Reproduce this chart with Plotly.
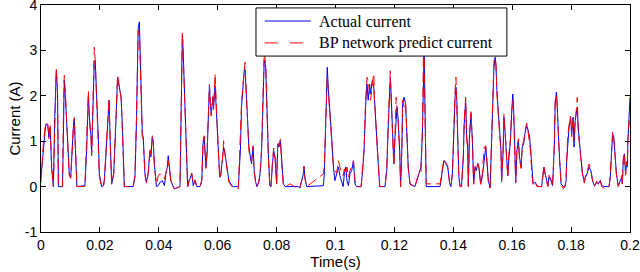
import plotly.graph_objects as go

# time (s)
t = [0.0000,0.0008,0.0014,0.0017,0.0023,0.0027,0.0031,0.0036,0.0042,0.0046,0.0050,0.0052,0.0056,0.0059,0.0073,0.0076,0.0079,0.0084,0.0088,0.0093,
     0.0096,0.0101,0.0104,0.0110,0.0113,0.0117,0.0120,0.0122,0.0149,0.0155,0.0159,0.0161,0.0164,0.0170,0.0172,0.0174,0.0178,0.0181,0.0184,0.0188,
     0.0191,0.0195,0.0198,0.0202,0.0206,0.0212,0.0215,0.0220,0.0225,0.0231,0.0235,0.0240,0.0247,0.0251,0.0256,0.0260,0.0266,0.0272,0.0276,0.0280,
     0.0283,0.0313,0.0319,0.0324,0.0327,0.0330,0.0334,0.0337,0.0340,0.0344,0.0347,0.0350,0.0353,0.0358,0.0364,0.0370,0.0373,0.0378,0.0381,0.0385,
     0.0388,0.0392,0.0398,0.0405,0.0412,0.0419,0.0424,0.0429,0.0432,0.0436,0.0441,0.0448,0.0453,0.0472,0.0474,0.0476,0.0480,0.0483,0.0487,0.0491,
     0.0495,0.0498,0.0503,0.0512,0.0517,0.0523,0.0529,0.0540,0.0546,0.0550,0.0554,0.0557,0.0560,0.0564,0.0569,0.0572,0.0575,0.0578,0.0584,0.0586,
     0.0591,0.0598,0.0602,0.0607,0.0611,0.0616,0.0620,0.0625,0.0632,0.0638,0.0648,0.0653,0.0670,0.0672,0.0677,0.0681,0.0686,0.0690,0.0693,0.0697,
     0.0702,0.0706,0.0711,0.0715,0.0720,0.0724,0.0729,0.0733,0.0740,0.0745,0.0749,0.0755,0.0758,0.0763,0.0766,0.0772,0.0777,0.0781,0.0786,0.0790,
     0.0795,0.0800,0.0804,0.0808,0.0813,0.0817,0.0823,0.0829,0.0846,0.0862,0.0873,0.0879,0.0885,0.0891,0.0893,0.0896,0.0902,0.0959,0.0962,0.0967,
     0.0970,0.0972,0.0976,0.0981,0.0987,0.0993,0.0998,0.1004,0.1010,0.1015,0.1021,0.1026,0.1030,0.1035,0.1039,0.1044,0.1049,0.1055,0.1061,0.1066,
     0.1072,0.1087,0.1091,0.1097,0.1102,0.1107,0.1111,0.1116,0.1119,0.1125,0.1130,0.1132,0.1136,0.1143,0.1147,0.1150,0.1168,0.1174,0.1179,0.1184,
     0.1186,0.1188,0.1193,0.1198,0.1202,0.1206,0.1209,0.1213,0.1218,0.1221,0.1225,0.1228,0.1233,0.1238,0.1243,0.1247,0.1253,0.1270,0.1276,0.1284,
     0.1290,0.1295,0.1299,0.1301,0.1304,0.1308,0.1355,0.1361,0.1368,0.1375,0.1381,0.1388,0.1392,0.1397,0.1401,0.1406,0.1409,0.1412,0.1415,0.1419,
     0.1423,0.1428,0.1434,0.1437,0.1442,0.1445,0.1449,0.1451,0.1455,0.1460,0.1465,0.1469,0.1474,0.1478,0.1483,0.1487,0.1493,0.1498,0.1505,0.1510,
     0.1515,0.1519,0.1525,0.1530,0.1534,0.1538,0.1542,0.1545,0.1548,0.1553,0.1558,0.1562,0.1564,0.1569,0.1572,0.1577,0.1581,0.1585,0.1589,0.1594,
     0.1598,0.1602,0.1605,0.1608,0.1612,0.1616,0.1621,0.1625,0.1630,0.1634,0.1639,0.1643,0.1649,0.1654,0.1659,0.1662,0.1667,0.1671,0.1677,0.1684,
     0.1691,0.1700,0.1702,0.1708,0.1711,0.1717,0.1721,0.1725,0.1732,0.1737,0.1743,0.1746,0.1750,0.1752,0.1754,0.1760,0.1766,0.1774,0.1779,0.1783,
     0.1785,0.1789,0.1793,0.1798,0.1802,0.1807,0.1810,0.1814,0.1819,0.1821,0.1824,0.1829,0.1833,0.1839,0.1845,0.1849,0.1854,0.1861,0.1867,0.1873,
     0.1879,0.1887,0.1892,0.1899,0.1904,0.1915,0.1929,0.1933,0.1938,0.1941,0.1945,0.1949,0.1954,0.1960,0.1967,0.1972,0.1974,0.1977,0.1981,0.1985,
     0.1988,0.1991,0.1993,0.1997,0.2000]

# actual current (A)
actual = [0.20,0.87,1.24,1.38,1.35,1.09,1.31,0.43,0.00,1.38,2.04,2.56,2.12,0.00,0.00,1.53,2.34,1.82,1.31,0.79,
          0.28,0.21,0.72,1.31,1.49,0.87,0.43,0.00,0.02,0.79,1.68,2.04,1.53,1.09,0.72,1.09,2.26,2.75,2.78,2.19,
          1.60,1.01,0.28,0.13,0.00,0.02,0.13,0.65,1.16,1.90,1.01,0.06,0.28,0.79,1.68,2.41,2.19,1.97,1.38,0.65,
          0.00,0.00,0.21,1.38,2.45,3.50,3.63,2.85,1.97,1.16,1.09,0.72,0.28,0.10,0.28,0.79,0.65,1.09,1.01,0.50,
          0.28,0.00,0.02,0.10,0.13,0.02,0.28,0.43,0.68,0.43,0.13,0.02,-0.05,0.00,0.94,2.34,3.37,2.93,2.12,1.16,
          0.24,0.00,0.13,0.28,0.02,0.13,0.00,0.00,0.13,0.94,1.09,0.65,0.43,0.72,1.68,2.23,1.82,1.60,1.97,1.75,
          2.23,1.24,0.87,0.21,0.28,0.57,0.87,0.72,0.35,0.13,0.02,0.00,0.00,0.28,0.79,1.75,2.19,2.56,2.57,2.12,
          1.53,0.87,0.65,0.50,0.87,0.35,0.10,0.00,0.10,0.35,0.79,1.90,2.78,2.63,1.90,0.72,0.02,0.00,0.50,0.79,
          0.65,0.06,0.94,0.87,1.01,0.57,0.06,0.00,0.00,0.00,0.00,-0.03,0.13,0.28,0.43,0.21,0.00,0.02,0.28,1.38,
          2.19,2.63,2.12,1.53,1.09,0.43,0.13,0.28,0.43,0.24,0.10,0.00,0.28,0.43,0.13,0.02,0.28,0.35,0.57,0.06,
          0.00,0.00,0.28,0.79,1.75,2.26,1.90,2.26,2.04,2.34,2.19,1.90,1.53,0.72,0.28,0.00,0.00,0.35,1.31,2.19,
          2.40,2.19,1.16,0.50,1.09,1.68,1.75,1.46,0.79,0.00,0.72,1.82,1.97,1.82,1.16,0.43,0.06,0.00,0.13,0.28,
          0.43,1.16,2.70,2.95,1.68,0.00,0.00,0.28,0.57,0.50,0.43,0.06,0.00,0.28,1.24,1.97,2.19,1.90,1.09,0.21,
          0.00,0.02,0.65,1.38,1.90,1.16,0.87,0.02,1.09,1.60,1.01,0.06,0.43,0.35,0.50,0.43,0.06,0.21,0.57,0.87,
          0.50,0.13,-0.03,0.87,1.53,2.63,2.85,2.63,2.12,1.53,1.16,0.79,0.13,0.72,1.53,1.09,0.72,0.24,0.65,1.01,
          1.60,2.04,1.68,0.87,0.10,0.79,1.01,0.65,0.43,0.87,0.94,1.16,1.35,1.24,1.09,0.87,0.28,0.06,0.10,0.02,
          0.00,0.00,0.13,0.43,0.32,0.13,0.02,0.21,0.13,0.02,0.87,1.82,2.08,1.90,1.53,0.72,0.06,0.00,0.00,0.13,
          0.57,1.09,1.31,1.53,1.16,1.53,0.87,1.46,1.68,1.75,1.31,0.87,0.65,0.28,0.10,0.21,0.28,0.43,0.35,0.13,
          0.02,0.10,0.06,0.13,0.02,0.00,0.00,0.21,0.79,1.16,1.09,0.65,0.28,0.02,0.13,0.21,0.06,0.57,0.72,0.28,
          0.50,0.43,1.01,1.60,1.97]

# BP network predicted current (A)
predicted = [0.10,0.95,1.30,1.40,1.38,1.05,1.35,0.50,0.00,1.45,2.10,2.60,2.20,0.00,0.00,1.60,2.45,1.90,1.25,0.75,
             0.25,0.18,0.70,1.35,1.52,0.80,0.40,0.00,0.00,0.85,1.75,2.10,1.50,1.05,0.68,1.15,2.35,3.07,2.80,2.15,
             1.55,0.95,0.25,0.10,0.00,0.00,0.15,0.70,1.20,1.95,0.95,0.05,0.30,0.85,1.75,2.45,2.20,1.95,1.30,0.60,
             0.00,0.00,0.25,1.45,2.55,3.44,3.37,2.80,1.90,1.10,1.05,0.68,0.25,0.08,0.30,0.85,0.70,1.12,1.00,0.45,
             0.30,0.06,0.24,0.28,0.20,0.17,0.30,0.45,0.57,0.40,0.12,0.00,-0.05,0.00,1.00,2.45,3.40,2.85,2.05,1.10,
             0.20,0.00,0.15,0.30,0.05,0.15,0.00,0.00,0.15,1.00,1.12,0.60,0.40,0.80,1.75,2.25,1.85,1.55,2.00,1.70,
             2.49,1.20,0.80,0.18,0.30,0.60,1.01,0.70,0.32,0.10,0.00,0.00,-0.05,0.30,0.85,1.85,2.25,2.65,2.74,2.05,
             1.45,0.80,0.60,0.55,0.90,0.30,0.08,0.00,0.12,0.40,0.85,2.00,2.95,2.70,1.80,0.65,0.00,0.00,0.55,0.85,
             0.60,0.05,1.00,0.90,1.05,0.50,0.05,0.00,0.06,0.00,-0.05,-0.03,0.15,0.30,0.45,0.18,0.00,0.28,0.45,1.45,
             2.25,2.41,2.05,1.45,1.00,0.45,0.35,0.30,0.57,0.43,0.28,0.24,0.39,0.28,0.43,0.21,0.35,0.43,0.57,0.13,
             0.00,0.00,0.30,0.85,1.85,2.41,2.34,2.04,1.90,2.26,2.49,1.95,1.45,0.65,0.25,0.00,0.00,0.40,1.40,2.30,
             2.55,2.10,1.10,0.45,1.15,1.97,1.70,1.40,0.75,0.00,0.80,1.90,1.75,1.85,1.10,0.40,0.05,0.00,0.15,0.30,
             0.28,1.25,3.05,3.05,1.60,0.06,0.06,0.30,0.60,0.52,0.45,0.05,0.00,0.30,1.30,2.10,2.41,1.85,1.00,0.18,
             0.00,0.00,0.70,1.45,1.97,1.10,0.80,0.00,1.15,1.65,0.95,0.05,0.45,0.38,0.52,0.40,0.05,0.25,0.87,0.90,
             0.45,0.10,-0.03,0.95,1.60,2.75,3.00,2.70,2.05,1.45,1.10,0.75,0.10,0.80,1.60,1.05,0.68,0.20,0.70,1.05,
             1.65,1.90,1.60,0.80,0.08,0.85,1.05,0.60,0.40,0.90,1.00,1.20,1.40,1.20,0.87,0.80,0.25,0.05,0.12,0.00,
             0.00,0.00,0.15,0.45,0.30,0.10,0.00,0.25,0.15,0.00,0.95,1.90,2.00,1.85,1.45,0.65,0.05,-0.05,0.00,0.15,
             0.60,1.15,1.35,1.55,1.10,1.55,1.01,1.50,1.75,1.97,1.25,0.80,0.60,0.25,0.08,0.25,0.30,0.50,0.38,0.12,
             0.00,0.12,0.05,0.15,0.00,-0.05,0.00,0.25,0.85,1.20,1.05,0.60,0.25,0.00,0.15,0.25,0.05,0.60,0.75,0.25,
             0.55,0.45,1.05,1.50,1.35]

series_names = ["Actual current", "BP network predict current"]
series_colors = ["rgb(0,0,255)", "rgb(255,0,0)"]

x_ticks = [0, 0.02, 0.04, 0.06, 0.08, 0.1, 0.12, 0.14, 0.16, 0.18, 0.2]
x_tick_labels = ["0", "0.02", "0.04", "0.06", "0.08", "0.1", "0.12", "0.14", "0.16", "0.18", "0.2"]
y_ticks = [-1, 0, 1, 2, 3, 4]
y_tick_labels = ["-1", "0", "1", "2", "3", "4"]

fig = go.Figure()
fig.add_trace(go.Scatter(x=t, y=actual, mode="lines", name=series_names[0],
                         line=dict(color=series_colors[0], width=1)))
fig.add_trace(go.Scatter(x=t, y=predicted, mode="lines", name=series_names[1],
                         line=dict(color=series_colors[1], width=1, dash="10px,5px")))

tick_font = dict(family="Liberation Sans Narrow, Liberation Sans, Arial", size=14, color="black")
axis_common = dict(showline=True, linecolor="black", linewidth=1, mirror="allticks",
                   ticks="inside", ticklen=5, tickcolor="black", showgrid=False, zeroline=False,
                   automargin=False, tickfont=tick_font, ticklabeloverflow="allow")

# Boxed legend (MATLAB style), positioned in paper coordinates
leg_x0, leg_x1, leg_y0, leg_y1 = 0.365, 0.791, 0.775, 0.987
sample_x0, sample_x1, text_x = 0.380, 0.458, 0.468
row_y = [0.9295, 0.833]
sample_dash = ["solid", "13px,12px"]

shapes = [dict(type="rect", xref="paper", yref="paper", x0=leg_x0, x1=leg_x1, y0=leg_y0, y1=leg_y1,
               line=dict(color="black", width=1), fillcolor="white", layer="above")]
annotations = []
for name, color, dash, ry in zip(series_names, series_colors, sample_dash, row_y):
    shapes.append(dict(type="line", xref="paper", yref="paper", x0=sample_x0, x1=sample_x1, y0=ry, y1=ry,
                       line=dict(color=color, width=1, dash=dash), layer="above"))
    annotations.append(dict(xref="paper", yref="paper", x=text_x, y=ry, xanchor="left", yanchor="middle",
                            text=name, showarrow=False,
                            font=dict(family="Liberation Serif, Times New Roman", size=16, color="black")))

fig.update_layout(
    width=640, height=272,
    margin=dict(l=41, r=10, t=5, b=40),
    paper_bgcolor="white", plot_bgcolor="white",
    xaxis=dict(range=[0, 0.2], tickvals=x_ticks, ticktext=x_tick_labels,
               title=dict(text="Time(s)", standoff=3,
                          font=dict(family="Liberation Sans Narrow, Liberation Sans, Arial", size=15, color="black")),
               **axis_common),
    yaxis=dict(range=[-1, 4], tickvals=y_ticks, ticktext=y_tick_labels,
               title=dict(text="Current (A)", standoff=0,
                          font=dict(family="Liberation Sans, Arial", size=15, color="black")),
               **axis_common),
    shapes=shapes,
    annotations=annotations,
    showlegend=False,
)

fig.write_html("out.html", config={"displayModeBar": False},
               post_script="document.body.style.margin='0';document.body.style.padding='0';document.body.style.overflow='hidden';")
